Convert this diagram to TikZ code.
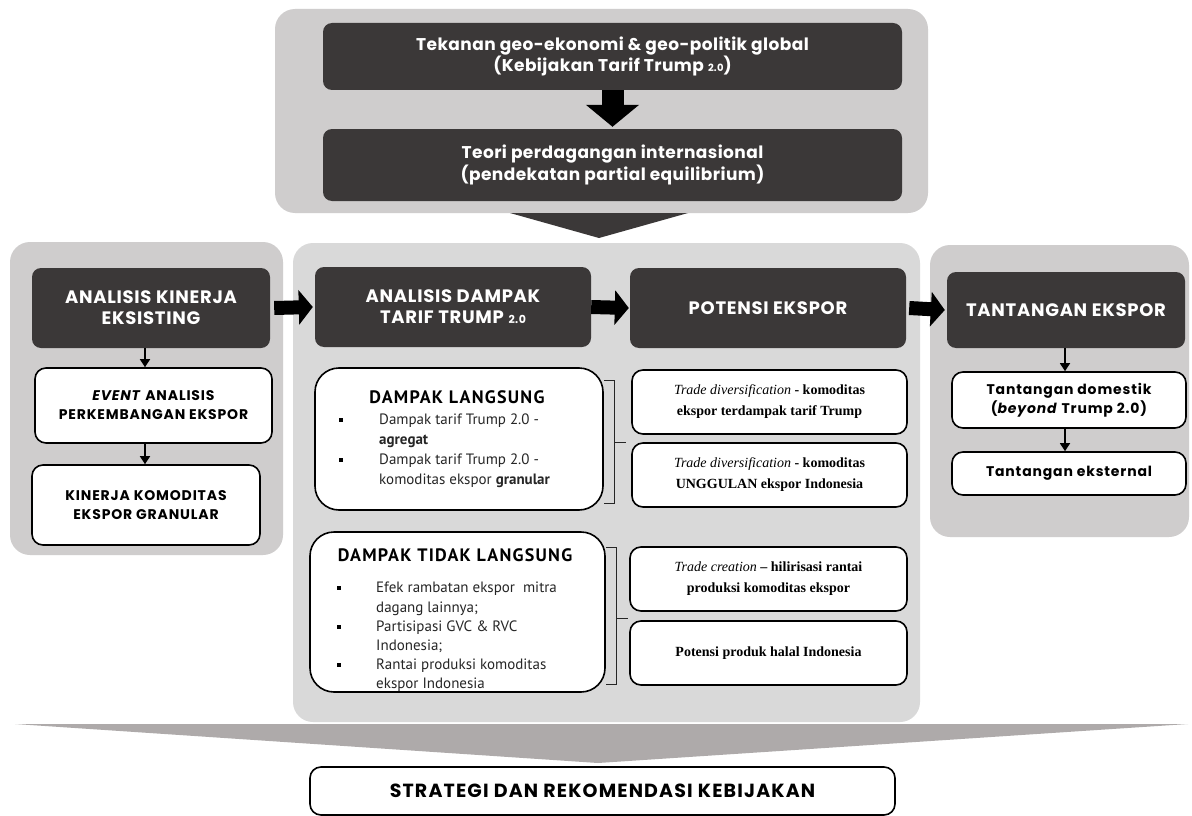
\documentclass[tikz,border=0pt]{standalone}
\usepackage{fontspec}
\setmainfont{Liberation Serif}
\newfontfamily\headfont{Poppins}
\newfontfamily\gillfont{PT Sans}
\usetikzlibrary{arrows.meta}
\definecolor{panelA}{HTML}{CFCDCD}
\definecolor{panelB}{HTML}{D9D9D9}
\definecolor{darkfill}{HTML}{3B3838}
\definecolor{bigtri}{HTML}{AEAAAA}
\definecolor{txtgray}{HTML}{262626}
\begin{document}
\begin{tikzpicture}[x=1pt,y=-1pt,
  panel/.style={rounded corners=20pt, inner sep=0pt, fill=#1},
  darkbox/.style={rounded corners=9pt, fill=darkfill, text=white, align=center, inner sep=0pt, font=\headfont\bfseries\fontsize{18}{21}\selectfont\addfontfeature{LetterSpace=4}},
  topbox/.style={darkbox, font=\headfont\bfseries\fontsize{17}{20}\selectfont\addfontfeature{LetterSpace=2.5}},
  whitebox/.style={rounded corners=11pt, draw=black, line width=1.6pt, fill=white, align=center, inner sep=0pt, font=\headfont\bfseries\fontsize{14}{19}\selectfont\addfontfeature{LetterSpace=6}},
  roundbox/.style={whitebox, rounded corners=24pt},
  serifbox/.style={whitebox, font=\bfseries\fontsize{14}{21}\selectfont},
  bodytext/.style={anchor=north west, inner sep=0pt, align=left, text=txtgray, font=\gillfont\fontsize{15}{20}\selectfont},
  titletext/.style={inner sep=0pt, text=black, font=\gillfont\bfseries\fontsize{18}{20}\selectfont\addfontfeature{LetterSpace=7}},
  bul/.style={fill=black, inner sep=0pt, minimum size=3.5pt},
  blockarrow/.style={draw=black, line width=14pt, -{Triangle[length=14pt,width=34pt]}},
  bigarrow/.style={draw=black, line width=22pt, -{Triangle[length=22pt,width=52pt]}},
  thinarrow/.style={draw=black, line width=1.5pt, -{Triangle[length=8pt,width=10pt]}},
  bracket/.style={draw=txtgray, line width=0.8pt}
]
\useasboundingbox (0,0) rectangle (1192,816);
\fill[white] (0,0) rectangle (1192,816);

% panels
\node[panel=panelA, minimum width=653pt, minimum height=204pt] (toppanel) at (601.5,111) {};
\node[panel=panelA, minimum width=273pt, minimum height=313pt] (leftpanel) at (146.5,398.5) {};
\node[panel=panelB, minimum width=627pt, minimum height=479pt] (midpanel) at (606.5,482.5) {};
\node[panel=panelA, minimum width=259pt, minimum height=292pt] (rightpanel) at (1059.5,391) {};

% top boxes
\node[topbox, minimum width=579pt, minimum height=67pt] (tek) at (612.5,56.5)
  {Tekanan geo-ekonomi \& geo-politik global\\(Kebijakan Tarif Trump {\fontsize{10}{12}\selectfont 2.0})};
\node[topbox, minimum width=579pt, minimum height=72pt] (teori) at (612.5,165)
  {Teori perdagangan internasional\\(pendekatan partial equilibrium)};
\draw[bigarrow, shorten >=2pt] (tek.south) -- (teori.north);
\fill[darkfill] (510,213) -- (688,213) -- (599,238) -- cycle;

% left column
\node[darkbox, minimum width=238pt, minimum height=80pt] (ak) at (151,308) {ANALISIS KINERJA\\EKSISTING};
\node[whitebox, minimum width=237pt, minimum height=75pt] (ev) at (153.5,405.5) {\textit{EVENT} ANALISIS\\PERKEMBANGAN EKSPOR};
\node[whitebox, minimum width=228pt, minimum height=80pt] (kk) at (146,505) {KINERJA KOMODITAS\\EKSPOR GRANULAR};
\draw[thinarrow] (ak.south -| 145,0) -- (ev.north -| 145,0);
\draw[thinarrow] (ev.south -| 145,0) -- (kk.north -| 145,0);

% middle column
\node[darkbox, minimum width=276pt, minimum height=80pt] (ad) at (453,307) {ANALISIS DAMPAK\\TARIF TRUMP {\fontsize{11}{12}\selectfont 2.0}};
\node[darkbox, minimum width=276pt, minimum height=80pt] (pe) at (768,308) {POTENSI EKSPOR};
\draw[blockarrow] ([xshift=4pt]ak.east) -- ([xshift=-2pt]ad.west);
\draw[blockarrow] (ad.east) -- ([xshift=-1pt]pe.west);

\node[roundbox, minimum width=288pt, minimum height=142pt] (dl) at (459,439) {};
\node[titletext] (dltitle) at (457,397) {DAMPAK LANGSUNG};
\node[bul] (dlb1) at (341,420) {};
\node[bul] (dlb2) at (341,460) {};
\node[bodytext] (dltext) at (379,414) {Dampak tarif Trump 2.0 -\\\textbf{agregat}\\Dampak tarif Trump 2.0 -\\komoditas ekspor \textbf{granular}};

\node[roundbox, minimum width=295pt, minimum height=160pt] (dtl) at (457.5,612) {};
\node[titletext] (dtltitle) at (455,555) {DAMPAK TIDAK LANGSUNG};
\node[bul] (dtlb1) at (339,588) {};
\node[bul] (dtlb2) at (339,627) {};
\node[bul] (dtlb3) at (339,665) {};
\node[bodytext, font=\gillfont\fontsize{15}{19.2}\selectfont] (dtltext) at (376,582) {Efek rambatan ekspor\ \ mitra\\dagang lainnya;\\Partisipasi GVC \& RVC\\Indonesia;\\Rantai produksi komoditas\\ekspor Indonesia};

\draw[bracket] (604,380) -- (614,380) -- (614,503) -- (604,503);
\draw[bracket] (614,442) -- (626,442);
\draw[bracket] (606,547) -- (616,547) -- (616,684) -- (606,684);
\draw[bracket] (616,618) -- (628,618);

\node[serifbox, minimum width=275pt, minimum height=64pt] (td1) at (769.5,402) {\textit{\mdseries Trade diversification} - komoditas\\ekspor terdampak tarif Trump};
\node[serifbox, minimum width=275pt, minimum height=64pt] (td2) at (769.5,475) {\textit{\mdseries Trade diversification} - komoditas\\UNGGULAN ekspor Indonesia};
\node[serifbox, minimum width=277pt, minimum height=64pt] (tc) at (768.5,579) {\textit{\mdseries Trade creation} -- hilirisasi rantai\\produksi komoditas ekspor};
\node[serifbox, minimum width=277pt, minimum height=64pt] (ph) at (768.5,653) {Potensi produk halal Indonesia};

% right column
\node[darkbox, minimum width=238pt, minimum height=76pt] (te) at (1066,310) {TANTANGAN EKSPOR};
\node[whitebox, minimum width=234pt, minimum height=56pt] (tdm) at (1069,400) {Tantangan domestik\\(\textit{beyond} Trump 2.0)};
\node[whitebox, minimum width=234pt, minimum height=43pt] (tex) at (1069,473.5) {Tantangan eksternal};
\draw[blockarrow] ([xshift=3pt]pe.east) -- ([xshift=-2pt]te.west);
\draw[thinarrow] (te.south -| 1065,0) -- (tdm.north -| 1065,0);
\draw[thinarrow] (tdm.south -| 1065,0) -- (tex.north -| 1065,0);

% bottom
\fill[bigtri] (15,724) -- (1188,724) -- (598,763) -- cycle;
\node[whitebox, minimum width=585pt, minimum height=48pt, font=\headfont\bfseries\fontsize{19}{22}\selectfont\addfontfeature{LetterSpace=6}] (strat) at (602.5,791) {STRATEGI DAN REKOMENDASI KEBIJAKAN};
\end{tikzpicture}
\end{document}
